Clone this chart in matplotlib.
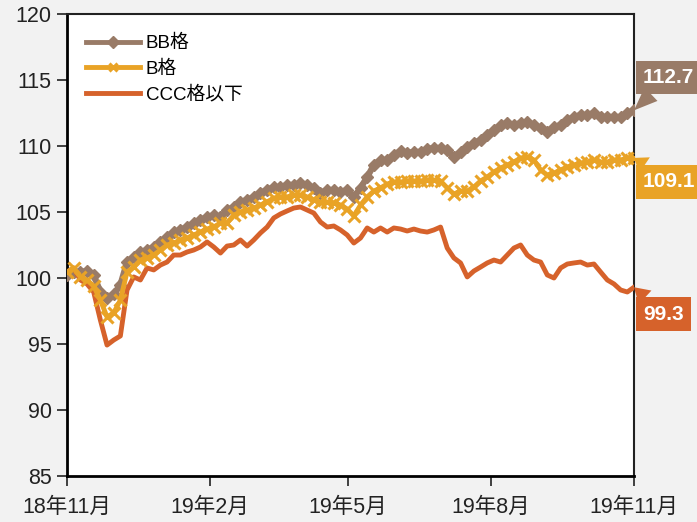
import matplotlib
matplotlib.use("Agg")
import matplotlib.pyplot as plt
import pandas as pd
from matplotlib import font_manager

# ---------------- data ----------------
dates = pd.date_range("2018-11-01", "2019-11-01", periods=86)

bb = [100.23, 100.45, 100.45, 100.53, 100.23, 98.94, 98.48, 98.79, 99.47, 101.21,
      101.59, 101.97, 102.12, 102.35, 102.73, 103.11, 103.48, 103.64, 103.86, 104.17,
      104.39, 104.62, 104.77, 104.62, 105.15, 105.38, 105.76, 105.91, 106.14, 106.44,
      106.67, 106.89, 106.89, 107.05, 107.05, 107.20, 107.05, 106.82, 106.44, 106.67,
      106.67, 106.52, 106.67, 106.14, 106.82, 107.65, 108.56, 108.94, 108.94, 109.32,
      109.62, 109.47, 109.55, 109.55, 109.77, 109.85, 109.85, 109.70, 109.17, 109.55,
      109.92, 110.23, 110.45, 110.83, 111.21, 111.59, 111.74, 111.59, 111.74, 111.82,
      111.59, 111.36, 111.06, 111.44, 111.59, 111.97, 112.20, 112.35, 112.35, 112.50,
      112.20, 112.20, 112.20, 112.20, 112.50, 112.70]

b = [100.45, 100.76, 100.08, 99.85, 99.39, 98.33, 97.05, 97.35, 98.33, 100.45,
     100.83, 101.36, 101.52, 101.74, 102.12, 102.50, 102.65, 102.88, 103.03, 103.26,
     103.48, 103.71, 103.86, 104.17, 104.17, 104.77, 105.00, 105.15, 105.30, 105.53,
     105.76, 106.06, 106.14, 106.14, 106.29, 106.29, 106.14, 105.91, 105.76, 105.76,
     105.68, 105.53, 105.23, 104.70, 105.53, 106.14, 106.59, 106.82, 107.12, 107.27,
     107.27, 107.35, 107.35, 107.35, 107.42, 107.42, 107.35, 106.82, 106.36, 106.59,
     106.59, 106.89, 107.35, 107.65, 108.03, 108.33, 108.56, 108.79, 109.09, 109.17,
     108.94, 108.18, 107.80, 107.95, 108.18, 108.41, 108.56, 108.71, 108.79, 108.94,
     108.79, 108.79, 108.94, 108.94, 109.09, 109.10]

ccc = [100.45, 100.76, 99.85, 99.55, 98.94, 96.82, 94.92, 95.30, 95.61, 99.09,
       100.08, 99.85, 100.76, 100.61, 100.98, 101.21, 101.74, 101.74, 101.97, 102.12,
       102.35, 102.73, 102.35, 101.89, 102.42, 102.50, 102.88, 102.42, 102.88, 103.41,
       103.86, 104.55, 104.85, 105.08, 105.30, 105.38, 105.15, 104.92, 104.24, 103.86,
       103.94, 103.64, 103.26, 102.65, 103.03, 103.79, 103.48, 103.79, 103.48, 103.79,
       103.71, 103.56, 103.71, 103.56, 103.48, 103.64, 103.86, 102.27, 101.52, 101.14,
       100.08, 100.53, 100.83, 101.14, 101.36, 101.21, 101.74, 102.27, 102.50, 101.74,
       101.36, 101.21, 100.23, 100.00, 100.76, 101.06, 101.14, 101.21, 100.98, 101.06,
       100.45, 99.85, 99.55, 99.09, 98.94, 99.30]

series_names = ["BB格", "B格", "CCC格以下"]
end_labels = ["112.7", "109.1", "99.3"]
tick_dates = ["2018-11-01", "2019-02-01", "2019-05-01", "2019-08-01", "2019-11-01"]
tick_labels = ["18年11月", "19年2月", "19年5月", "19年8月", "19年11月"]
y_ticks = [85, 90, 95, 100, 105, 110, 115, 120]

# ---------------- style ----------------
names = {f.name for f in font_manager.fontManager.ttflist}
narrow = "Liberation Sans Narrow" if "Liberation Sans Narrow" in names else "Liberation Sans"
tick_font = [narrow, "Noto Sans CJK JP", "DejaVu Sans"]
text_font = ["Liberation Sans", "Noto Sans CJK JP", "DejaVu Sans"]

c_bb = "#997B67"
c_b = "#E9A326"
c_ccc = "#D6622B"

fig = plt.figure(figsize=(6.97, 5.22), dpi=100, facecolor="#F2F2F2")
ax = fig.add_axes([67 / 697, 46 / 522, 567 / 697, 462 / 522])
ax.set_facecolor("white")

l_bb, = ax.plot(dates, bb, color=c_bb, lw=4.5, marker="D", ms=6, mec=c_bb, mfc=c_bb, zorder=3)
l_ccc, = ax.plot(dates, ccc, color=c_ccc, lw=3.5, zorder=4)
l_b, = ax.plot(dates, b, color=c_b, lw=3.5, marker="x", ms=8, mew=2.2, mec=c_b, zorder=5)

ax.set_ylim(85, 120)
ax.set_yticks(y_ticks)
ax.set_xlim(pd.Timestamp(tick_dates[0]), pd.Timestamp(tick_dates[-1]))
ax.set_xticks(pd.to_datetime(tick_dates))
ax.set_xticklabels(tick_labels)

for lab in ax.get_xticklabels() + ax.get_yticklabels():
    lab.set_family(tick_font)
    lab.set_fontsize(15.5)
    lab.set_color("#222222")

ax.tick_params(axis="both", direction="out", length=7, width=1.2, color="#222222")
ax.tick_params(axis="y", pad=4)
ax.tick_params(axis="x", pad=8)
for side in ["left", "bottom"]:
    ax.spines[side].set_linewidth(2)
    ax.spines[side].set_color("black")
for side in ["top", "right"]:
    ax.spines[side].set_linewidth(1.5)
    ax.spines[side].set_color("#222222")

leg = ax.legend([l_bb, l_b, l_ccc], series_names, loc="upper left",
                bbox_to_anchor=(0.0, 0.995), frameon=False,
                prop={"family": text_font, "size": 13.5}, handlelength=2.9,
                handletextpad=0.3, labelspacing=0.42, borderaxespad=0.6)
for h in leg.legend_handles:
    h.set_markersize(6)
    h.set_linewidth(3.5)

# end labels
vals = [bb[-1], b[-1], ccc[-1]]
colors = [c_bb, c_b, c_ccc]
offsets = [(9, 33), (9, -24), (9, -27)]
for v, txt, col, off in zip(vals, end_labels, colors, offsets):
    ax.annotate(txt, xy=(dates[-1], v), xytext=off, textcoords="offset pixels",
                ha="left", va="center", color="white", fontsize=15, fontweight="bold",
                family=text_font, annotation_clip=False,
                bbox=dict(boxstyle="square,pad=0.35", fc=col, ec="none"),
                arrowprops=dict(arrowstyle="wedge,tail_width=0.9,shrink_factor=0.5",
                                fc=col, ec="none", shrinkA=0, shrinkB=0),
                zorder=10)

fig.savefig("out.png", dpi=100, facecolor=fig.get_facecolor())
